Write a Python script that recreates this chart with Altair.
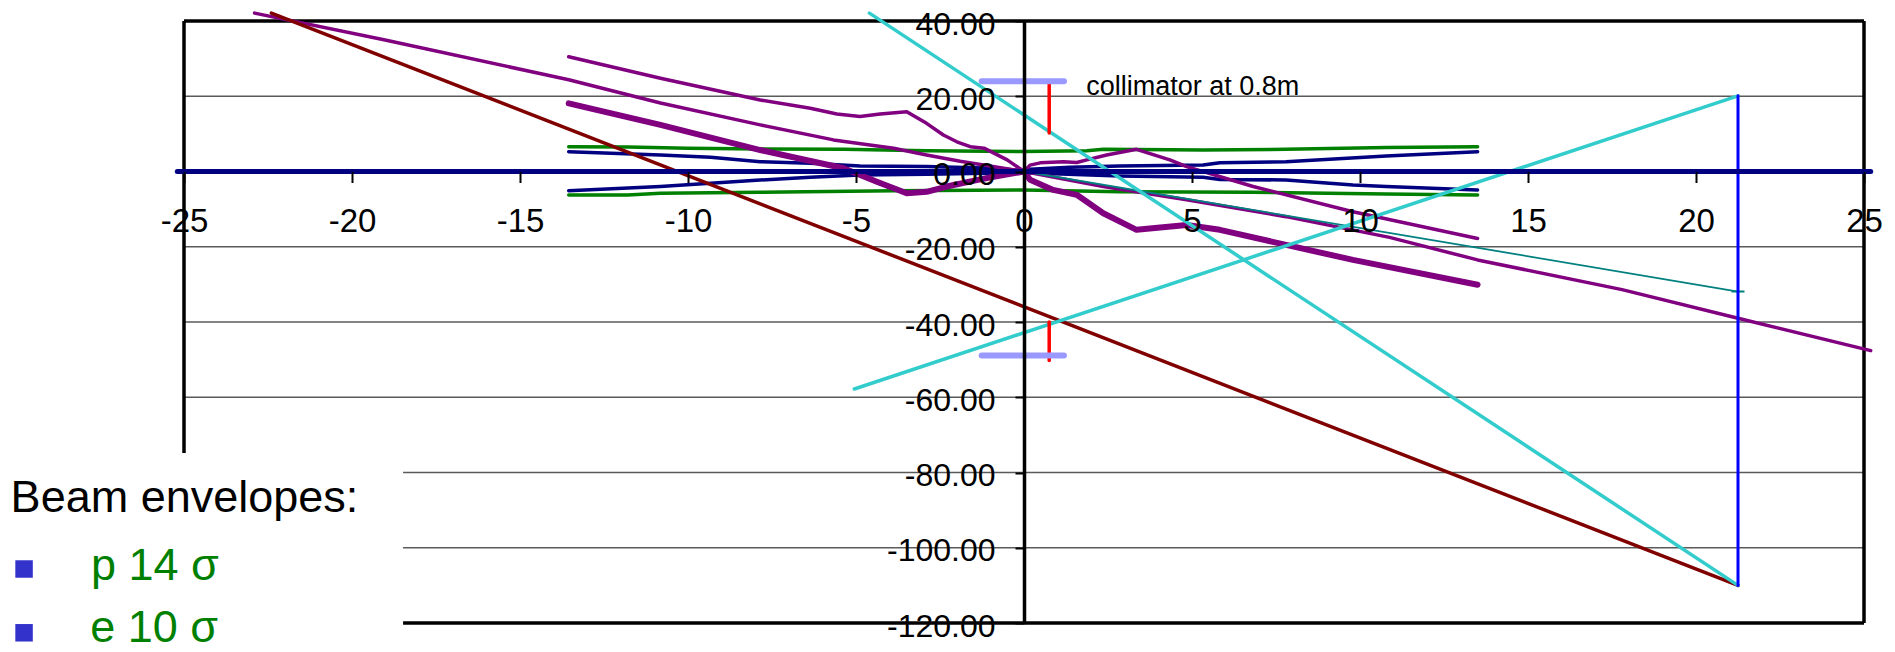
import altair as alt
import pandas as pd

# ---------------- data ----------------
XTICKS = [-25, -20, -15, -10, -5, 0, 5, 10, 15, 20, 25]
YTICKS = [-120, -100, -80, -60, -40, -20, 0, 20, 40]
GRID_Y = [20, -20, -40, -60, -80, -100]

# long thin purple beam line
P1_X = [-22.9, -19.05, -13.55, -10.82, -7.85, -5.67, -3.88, -2.9, -1.9, 0, 2.36, 4.84, 7.8, 10.88, 13.5, 17.8, 21.25, 25.2]
P1_Y = [42.1, 35.0, 24.4, 18.2, 12.4, 8.4, 6.2, 4.4, 2.7, 0, -4.0, -7.5, -12.0, -17.5, -23.5, -31.4, -39.0, -47.6]

# thin purple envelope
T_X = [-13.55, -10.82, -7.85, -6.36, -5.57, -4.88, -4.28, -3.49, -2.9, -2.4, -2.0, -1.6, -1.19, -0.5, 0,
       0.18, 0.48, 1.17, 1.57, 1.87, 2.46, 3.35, 4.34, 4.84, 6.82, 9.79, 13.5]
T_Y = [30.5, 24.8, 19.0, 16.8, 15.3, 14.6, 15.3, 15.9, 12.8, 9.7, 7.9, 6.6, 6.2, 3.1, 0,
       1.7, 2.3, 2.6, 2.4, 3.1, 4.4, 5.9, 3.1, 1.3, -4.0, -10.7, -17.8]

# thick purple envelope
K_X = [-13.55, -10.82, -7.85, -5.37, -4.38, -3.49, -2.9, -2.3, -1.41, -0.91, 0,
       0.18, 0.87, 1.57, 2.36, 3.35, 4.84, 5.83, 7.8, 9.79, 13.5]
K_Y = [18.1, 12.4, 5.7, 0.85, -2.7, -5.8, -5.4, -4.0, -2.3, -1.4, 0,
       -2.2, -4.9, -6.2, -11.1, -15.5, -14.2, -15.5, -19.5, -23.5, -30.1]

# green envelopes (p 14 sigma)
G1_X = [-13.55, -11.8, -10.0, -7.85, -5.37, -2.9, 0, 1.87, 2.36, 5.33, 7.8, 10.78, 13.5]
G1_Y = [6.6, 6.5, 6.2, 6.0, 5.9, 5.5, 5.3, 5.5, 5.9, 5.7, 5.9, 6.4, 6.6]
G2_X = [-13.55, -11.8, -10.82, -7.85, -3.88, 0, 2.85, 6.8, 10.78, 13.5]
G2_Y = [-6.25, -6.25, -5.8, -5.5, -5.1, -4.9, -5.35, -5.5, -6.0, -6.25]

# navy envelopes (e 10 sigma)
N1_X = [-13.55, -10.82, -9.33, -7.85, -6.36, -4.88, -2.9, -0.9, 0, 0.18, 1.37, 2.85, 5.33, 5.83, 7.8, 10.78, 13.5]
N1_Y = [5.27, 4.4, 3.8, 2.6, 2.2, 1.46, 1.3, 0.85, 0.2, 0.6, 1.1, 1.46, 1.7, 2.35, 2.6, 4.1, 5.27]
N2_X = [-13.55, -10.82, -7.85, -6.36, -4.88, -2.9, 0, 2.85, 5.33, 5.83, 7.8, 9.79, 10.78, 13.5]
N2_Y = [-5.1, -4.0, -2.26, -1.55, -0.93, -0.75, -0.3, -1.2, -1.55, -2.1, -2.26, -3.6, -4.0, -4.9]

# straight rays / detector
BROWN_X = [-22.4, 21.25]
BROWN_Y = [42.1, -110]
CYAN_A_X = [-4.6, 21.25]
CYAN_A_Y = [42.1, -110]
CYAN_B_X = [-5.05, 21.25]
CYAN_B_Y = [-57.8, 20.1]
BLUE_X = [21.25, 21.25]
BLUE_Y = [20.1, -110]
TEAL_X = [0, 21.25]
TEAL_Y = [0, -31.9]
AXIS_X = [-25.2, 25.2]
AXIS_Y = [0, 0]

# collimator at 0.8 m
RED_UP_X = [0.75, 0.75]
RED_UP_Y = [24.0, 10.2]
RED_LO_X = [0.75, 0.75]
RED_LO_Y = [-40.0, -50.2]
LAV_UP_X = [-1.26, 1.19]
LAV_UP_Y = [24.0, 24.0]
LAV_LO_X = [-1.26, 1.19]
LAV_LO_Y = [-48.9, -48.9]

COLL_TEXT = ["collimator at 0.8m"]
LEGEND_TITLE = ["Beam envelopes:"]
LEGEND_ITEMS = ["p 14 σ", "e 10 σ"]

# ---------------- scales & axes ----------------
XS = alt.Scale(domain=[XTICKS[0], XTICKS[-1]], nice=False, zero=False)
YS = alt.Scale(domain=[YTICKS[0], YTICKS[-1]], nice=False, zero=False)

X_AXIS = alt.Axis(orient="bottom", offset=-451.5, values=XTICKS, domain=False, grid=False,
                  ticks=True, tickColor="black", tickWidth=2, tickSize=11,
                  labelFont="Liberation Sans", labelFontSize=33, labelColor="black",
                  labelPadding=23, labelFlush=False, labelOverlap=False,
                  labelExpr="(datum.value < 0 ? '-' : '') + format(abs(datum.value), 'd')",
                  title="", zindex=1)
Y_AXIS = alt.Axis(orient="left", offset=-840, values=YTICKS, domain=True, domainColor="black",
                  domainWidth=3.5, grid=False, ticks=True, tickColor="black", tickWidth=2, tickSize=9,
                  labelFont="Liberation Sans", labelFontSize=32, labelColor="black",
                  labelPadding=20, labelOffset=3, labelOverlap=False,
                  labelExpr="(datum.value < 0 ? '-' : '') + format(abs(datum.value), '.2f')",
                  title="", zindex=1)


def ex(f):
    return alt.X(f"{f}:Q", scale=XS, axis=X_AXIS)


def ey(f):
    return alt.Y(f"{f}:Q", scale=YS, axis=Y_AXIS)


def line(xs, ys, color, width):
    df = pd.DataFrame({"x": xs, "y": ys, "k": list(range(len(xs)))})
    return alt.Chart(df).mark_line(color=color, strokeWidth=width, strokeCap="round",
                                   strokeJoin="round").encode(x=ex("x"), y=ey("y"), order="k:Q")


x0, x1 = XTICKS[0], XTICKS[-1]
y0, y1 = YTICKS[0], YTICKS[-1]

grid = alt.Chart(pd.DataFrame({"x1": [x0] * len(GRID_Y), "x2": [x1] * len(GRID_Y), "y": GRID_Y})) \
    .mark_rule(color="#5a5a5a", strokeWidth=1.4).encode(x=ex("x1"), x2="x2", y=ey("y"))

frame_h = alt.Chart(pd.DataFrame({"x1": [x0, x0], "x2": [x1, x1], "y": [y1, y0]})) \
    .mark_rule(color="black", strokeWidth=3.5).encode(x=ex("x1"), x2="x2", y=ey("y"))
frame_v = alt.Chart(pd.DataFrame({"x": [x0, x1], "y1": [y0, y0], "y2": [y1, y1]})) \
    .mark_rule(color="black", strokeWidth=3.5).encode(x=ex("x"), y=ey("y1"), y2="y2")

teal_pts = alt.Chart(pd.DataFrame({"x": TEAL_X, "y": TEAL_Y})).mark_point(
    shape="M-1,0L1,0M0,-1L0,1", size=169, filled=False, color="#008080", strokeWidth=1.8, opacity=1
).encode(x=ex("x"), y=ey("y"))

# white text box of the slide covering the lower-left part of the plot
box = alt.Chart(pd.DataFrame({"x1": [-31.0], "x2": [-18.48], "y1": [-74.85], "y2": [-128.0]})) \
    .mark_rect(color="white", opacity=1).encode(x=ex("x1"), x2="x2", y=ey("y1"), y2="y2")

title_txt = alt.Chart(pd.DataFrame({"x": [-30.16], "y": [-90.42], "t": LEGEND_TITLE})).mark_text(
    align="left", baseline="alphabetic", font="Liberation Sans", fontSize=45, color="black"
).encode(x=ex("x"), y=ey("y"), text="t:N")

items_txt = alt.Chart(pd.DataFrame({"x": [-27.77, -27.79], "y": [-108.57, -125.0], "t": LEGEND_ITEMS})).mark_text(
    align="left", baseline="alphabetic", font="Liberation Sans", fontSize=45, color="#008000"
).encode(x=ex("x"), y=ey("y"), text="t:N")

bullets = alt.Chart(pd.DataFrame({"x": [-29.76, -29.76], "y": [-105.65, -122.6]})).mark_square(
    size=306, color="#3333CC", opacity=1
).encode(x=ex("x"), y=ey("y"))

coll_txt = alt.Chart(pd.DataFrame({"x": [1.85], "y": [20.33], "t": COLL_TEXT})).mark_text(
    align="left", baseline="alphabetic", font="Liberation Sans", fontSize=27, color="black"
).encode(x=ex("x"), y=ey("y"), text="t:N")

chart = alt.layer(
    grid,
    frame_h,
    frame_v,
    line(G1_X, G1_Y, "#008000", 3.5),
    line(G2_X, G2_Y, "#008000", 3.5),
    line(N1_X, N1_Y, "#000080", 3.5),
    line(N2_X, N2_Y, "#000080", 3.5),
    line(T_X, T_Y, "#800080", 3.5),
    line(P1_X, P1_Y, "#800080", 3.5),
    line(K_X, K_Y, "#800080", 6),
    line(TEAL_X, TEAL_Y, "#008080", 1.8),
    teal_pts,
    line(BROWN_X, BROWN_Y, "#800000", 3.5),
    line(CYAN_A_X, CYAN_A_Y, "#33CCCC", 3.5),
    line(CYAN_B_X, CYAN_B_Y, "#33CCCC", 3.5),
    line(BLUE_X, BLUE_Y, "#0000FF", 3),
    line(AXIS_X, AXIS_Y, "#000080", 5),
    line(RED_UP_X, RED_UP_Y, "#FF0000", 3.5),
    line(RED_LO_X, RED_LO_Y, "#FF0000", 3.5),
    line(LAV_UP_X, LAV_UP_Y, "#9999FF", 6),
    line(LAV_LO_X, LAV_LO_Y, "#9999FF", 6),
    box,
    title_txt,
    items_txt,
    bullets,
    coll_txt,
).properties(
    width=1680, height=602,
    padding={"left": 184, "top": 21, "right": 31, "bottom": 29},
    autosize=alt.AutoSizeParams(type="none"),
).configure_view(stroke="transparent")

chart.save("out.html", embed_options={"renderer": "svg", "actions": False})
